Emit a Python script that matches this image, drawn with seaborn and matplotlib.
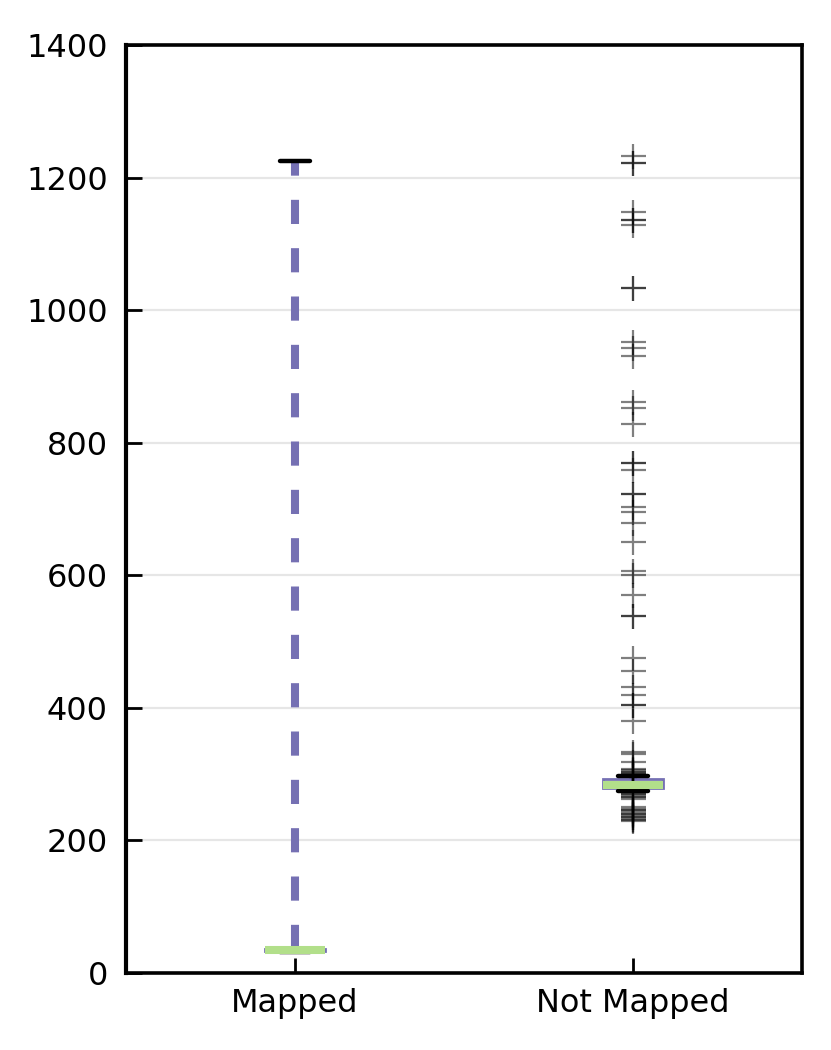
import matplotlib
matplotlib.use("Agg")
import matplotlib.pyplot as plt
import seaborn as sns
import pandas as pd

# -------------data-------------

groups = ["Mapped", "Not Mapped"]

mapped = [31, 31, 32, 33, 33, 34, 34, 34, 35, 35, 36, 36, 37, 38, 1225]

# below the box (outliers) and inside the lower whisker
not_mapped_low = [230, 231, 233, 235, 236, 238, 240, 242, 244, 246, 248, 250,
                  263, 265, 266, 268, 270, 272]
not_mapped_lower_body = [274, 274, 275, 275, 275, 276, 276, 276, 276, 276,
                         277, 277, 277, 277, 277, 277, 277,
                         278, 278, 278, 278, 278, 278, 278, 278, 278, 278,
                         278, 278, 278, 278, 278]
# inside the box
not_mapped_box = [279, 279, 279, 279, 279, 279, 279, 279,
                  280, 280, 280, 280, 280, 280, 280, 280, 280, 280,
                  281, 281, 281, 281, 281, 281, 281, 281, 281, 281,
                  282, 282, 282, 282, 282, 282, 282, 282, 282, 282,
                  283, 283, 283, 283, 283, 283, 283, 283, 283, 283, 283, 283,
                  284, 284, 284, 284, 284, 284, 284, 284, 284, 284, 284, 284,
                  285, 285, 285, 285, 285, 285, 285, 285,
                  286, 286, 286, 286, 286, 286, 286,
                  287, 287, 287, 287, 287, 287,
                  288, 288, 288, 288, 288,
                  289, 289, 289, 289,
                  290, 290, 290,
                  291, 291, 291,
                  292, 292]
not_mapped_upper_body = [294, 295, 297]
# above the box (outliers)
not_mapped_high = [298, 299, 300, 301, 303, 304, 306, 308, 319, 330, 333,
                   380, 405, 405, 419, 431, 455, 475, 538, 538, 571, 600, 607,
                   651, 679, 696, 703, 722, 722, 759, 769, 769, 828, 852, 862,
                   931, 943, 952, 1034, 1034, 1128, 1136, 1136, 1148,
                   1222, 1222, 1232]

not_mapped = (not_mapped_low + not_mapped_lower_body + not_mapped_box
              + not_mapped_upper_body + not_mapped_high)

df = pd.DataFrame({
    "group": ["Mapped"] * len(mapped) + ["Not Mapped"] * len(not_mapped),
    "length": mapped + not_mapped,
})

# -------------style-------------

purple = "#7570b3"
green = "#b2df8a"

sns.set_style("ticks")
plt.rcParams["font.family"] = ["DejaVu Sans"]
plt.rcParams["axes.axisbelow"] = True

fig = plt.figure(figsize=(4.155, 5.25), dpi=200)
ax = fig.add_axes([0.1516, 0.0733, 0.8135, 0.8838])

box_kws = dict(
    width=0.175,
    boxprops=dict(facecolor="white", edgecolor=purple, linewidth=1.0),
    medianprops=dict(color=green, linewidth=2.9, solid_capstyle="butt"),
    whiskerprops=dict(color=purple, linewidth=2.9, linestyle=(0, (3, 3))),
    capprops=dict(color="black", linewidth=1.6),
    flierprops=dict(marker="+", markeredgecolor="black", markerfacecolor="black",
                    markersize=9, markeredgewidth=0.8, alpha=0.5),
)

# mapped box: whiskers over the full range, not mapped: short whiskers
sns.boxplot(data=df[df.group == "Mapped"], x="group", y="length", order=groups,
            whis=(0, 100), ax=ax, **box_kws)
sns.boxplot(data=df[df.group == "Not Mapped"], x="group", y="length", order=groups,
            whis=0.37, ax=ax, **box_kws)

ax.set(ylim=(0, 1400), xlim=(-0.5, 1.5), yticks=range(0, 1401, 200))
ax.set_xlabel("")
ax.set_ylabel("")
ax.yaxis.grid(True, color="#e6e6e6", linewidth=0.8)
ax.xaxis.grid(False)
for axis in ["top", "bottom", "left", "right"]:
    ax.spines[axis].set_visible(True)
    ax.spines[axis].set_linewidth(1.3)
    ax.spines[axis].set_color("black")
ax.spines["left"].set_linewidth(1.5)
ax.tick_params(axis="y", direction="in", length=5.8, width=1.0, pad=6.5,
               labelsize=11.5, colors="black")
ax.tick_params(axis="x", direction="in", length=5.4, width=1.0, pad=5.5,
               labelsize=11.5, colors="black")

fig.savefig("out.png", dpi=200)
